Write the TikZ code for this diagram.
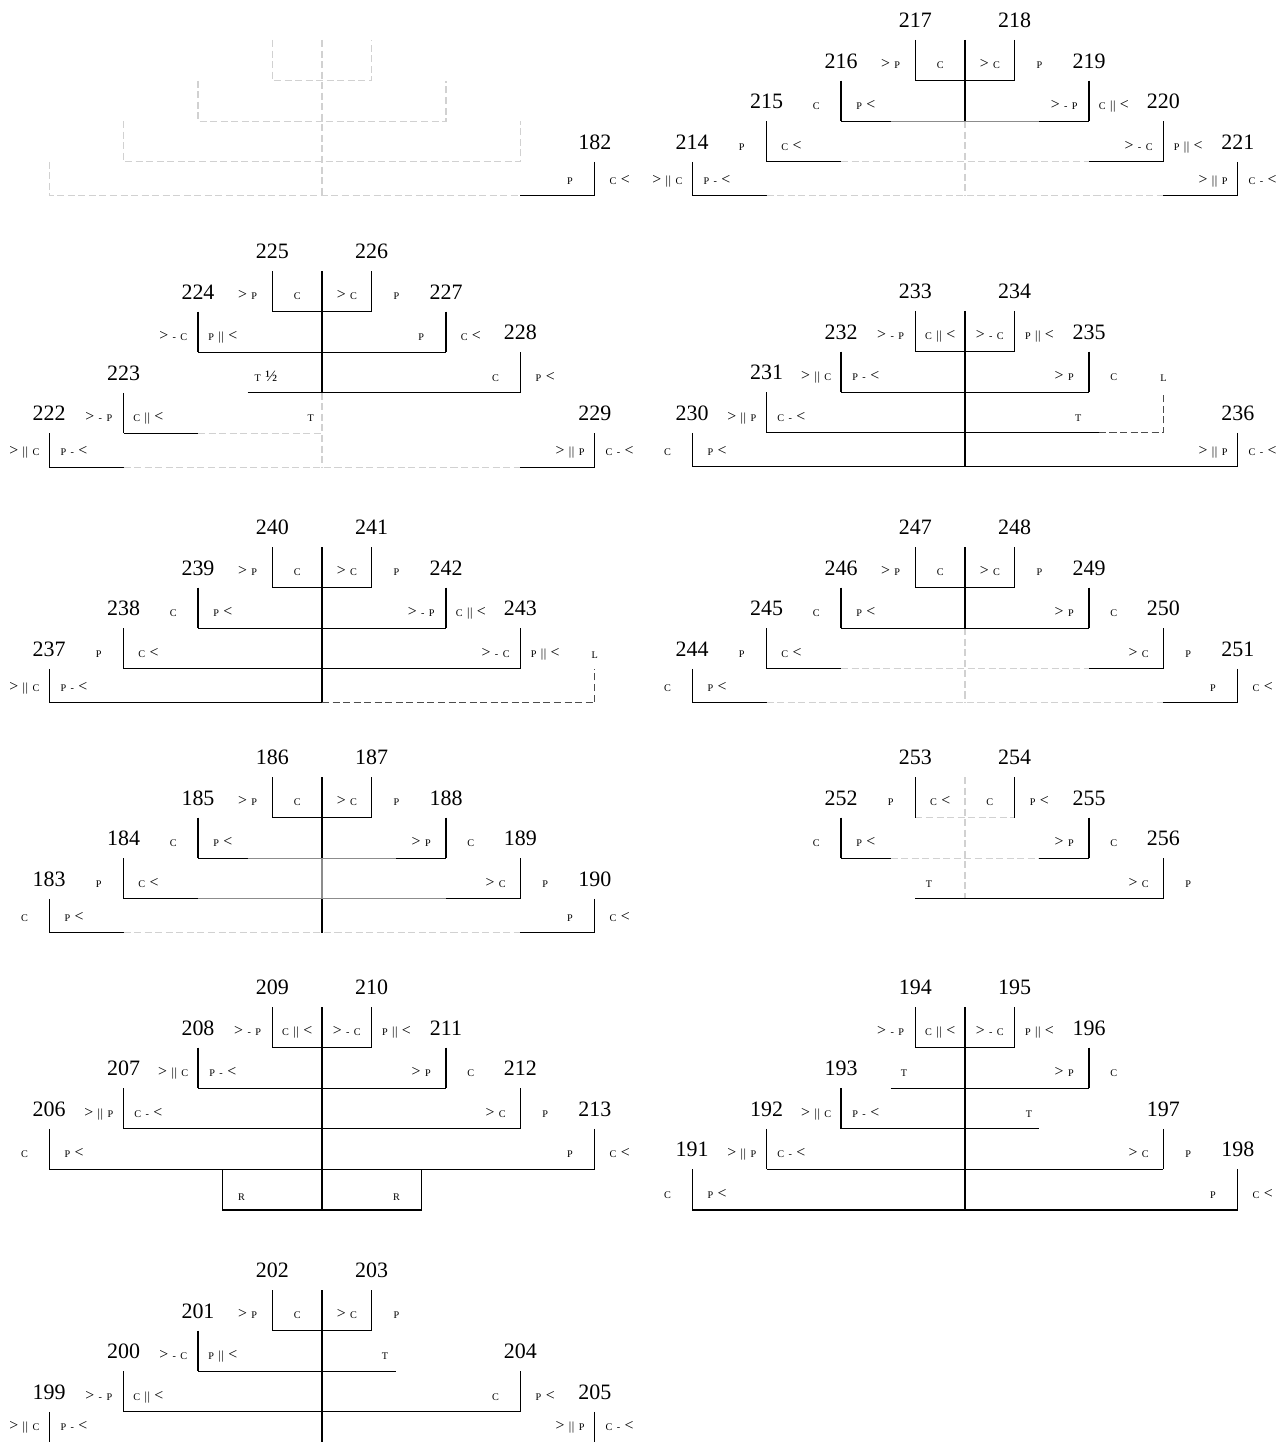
\documentclass[tikz,border=0pt]{standalone}
\usepackage{fontspec}
\setmainfont{Liberation Serif}
\newcommand\Gt{{\fontsize{9}{9}\selectfont >}}
\newcommand\Lt{{\fontsize{9}{9}\selectfont <}}
\newcommand\Db{{\fontsize{7}{7}\selectfont |\kern.3pt|}}
% [style] x, top, bottom, number, left label, right label
\newcommand\stemline[7][ln]{%
  \draw[#1] (#2,#3) -- (#2,#4);
  \node[num] (n#5) at (#2,#3-0.31) {#5};
  \node[lab] (a#5) at (#2-1,#4-0.29) {#6};
  \node[lab] (b#5) at (#2+1,#4-0.29) {#7};
}
\def\colL{12.984}
\def\colR{38.911}
\begin{document}
\begin{tikzpicture}[x=0.496cm,y=-0.812cm,
    ln/.style={line width=0.6pt},
    gr/.style={line width=0.6pt,black!45},
    dsh/.style={line width=0.6pt,black!18,dash pattern=on 4pt off 2pt},
    ldsh/.style={line width=0.6pt,black!70,dash pattern=on 4pt off 2pt},
    num/.style={anchor=base,inner sep=0pt,font=\fontsize{12.5}{14}\selectfont},
    lab/.style={anchor=base,inner sep=0pt,font={\fontsize{5.8}{7}\selectfont\spaceskip=2.5pt\relax}}]
    \useasboundingbox (0,0) rectangle (51.573,35.517);

    % 182
    \begin{scope}[shift={(\colL,0.985)}]
        \draw[dsh] (0,0) -- (0,3.84);
        \draw[dsh] (-2,0) -- (-2,1) -- (2,1) -- (2,0);
        \draw[dsh] (-5,1) -- (-5,2) -- (5,2) -- (5,1);
        \draw[dsh] (-8,2) -- (-8,3) -- (8,3) -- (8,2);
        \draw[dsh] (-11,3) -- (-11,3.84) -- (8,3.84);
        \draw[ln] (8,3.84) -- (11,3.84);
        \stemline{11}{3}{3.84}{182}{P}{C \Lt}
    \end{scope}

    % 214--221
    \begin{scope}[shift={(\colR,0.985)}]
        \draw[ln] (0,0) -- (0,2);
        \draw[dsh] (0,2) -- (0,3.84);
        \draw[ln] (-2,1) -- (2,1);
        \draw[ln] (-5,2) -- (-3,2); \draw[gr] (-3,2) -- (3,2); \draw[ln] (3,2) -- (5,2);
        \draw[ln] (-8,3) -- (-5,3); \draw[dsh] (-5,3) -- (5,3); \draw[ln] (5,3) -- (8,3);
        \draw[ln] (-11,3.84) -- (-8,3.84); \draw[dsh] (-8,3.84) -- (8,3.84); \draw[ln] (8,3.84) -- (11,3.84);
        \stemline{-2}{0}{1}{217}{\Gt{} P}{C}
        \stemline{2}{0}{1}{218}{\Gt{} C}{P}
        \stemline{-5}{1}{2}{216}{C}{P \Lt}
        \stemline{5}{1}{2}{219}{\Gt{} - P}{C \Db{} \Lt}
        \stemline{-8}{2}{3}{215}{P}{C \Lt}
        \stemline{8}{2}{3}{220}{\Gt{} - C}{P \Db{} \Lt}
        \stemline{-11}{3}{3.84}{214}{\Gt{} \Db{} C}{P - \Lt}
        \stemline{11}{3}{3.84}{221}{\Gt{} \Db{} P}{C - \Lt}
    \end{scope}

    % 222--229
    \begin{scope}[shift={(\colL,6.675)}]
        \draw[ln] (0,0) -- (0,3); \draw[dsh] (0,3) -- (0,4.84);
        \draw[ln] (-2,1) -- (2,1);
        \draw[ln] (-5,2) -- (5,2);
        \draw[ln] (-3,3) -- (8,3);
        \draw[ln] (-8,4) -- (-5,4); \draw[dsh] (-5,4) -- (0,4);
        \draw[ln] (-11,4.84) -- (-8,4.84); \draw[dsh] (-8,4.84) -- (8,4.84); \draw[ln] (8,4.84) -- (11,4.84);
        \node[lab] (tC1) at (-2.26,2.71) {T {\fontsize{9}{9}\selectfont ½}};
        \node[lab] (tC2) at (-0.45,3.71) {T};
        \stemline{-2}{0}{1}{225}{\Gt{} P}{C}
        \stemline{2}{0}{1}{226}{\Gt{} C}{P}
        \stemline{-5}{1}{2}{224}{\Gt{} - C}{P \Db{} \Lt}
        \stemline{5}{1}{2}{227}{P}{C \Lt}
        \stemline{8}{2}{3}{228}{C}{P \Lt}
        \stemline{-8}{3}{4}{223}{\Gt{} - P}{C \Db{} \Lt}
        \stemline{-11}{4}{4.84}{222}{\Gt{} \Db{} C}{P - \Lt}
        \stemline{11}{4}{4.84}{229}{\Gt{} \Db{} P}{C - \Lt}
    \end{scope}

    % 230--236
    \begin{scope}[shift={(\colR,7.66)}]
        \draw[ln] (0,0) -- (0,3.84);
        \draw[ln] (-2,1) -- (2,1);
        \draw[ln] (-5,2) -- (5,2);
        \draw[ln] (-8,3) -- (5.4,3);
        \draw[ldsh] (5.4,3) -- (8,3) -- (8,2);
        \draw[ln] (-11,3.84) -- (11,3.84);
        \node[lab] (tD) at (4.56,2.71) {T};
        \node[lab] (lD) at (8,1.735) {L};
        \stemline{-2}{0}{1}{233}{\Gt{} - P}{C \Db{} \Lt}
        \stemline{2}{0}{1}{234}{\Gt{} - C}{P \Db{} \Lt}
        \stemline{-5}{1}{2}{232}{\Gt{} \Db{} C}{P - \Lt}
        \stemline{5}{1}{2}{235}{\Gt{} P}{C}
        \stemline{-8}{2}{3}{231}{\Gt{} \Db{} P}{C - \Lt}
        \stemline{-11}{3}{3.84}{230}{C}{P \Lt}
        \stemline{11}{3}{3.84}{236}{\Gt{} \Db{} P}{C - \Lt}
    \end{scope}

    % 237--243
    \begin{scope}[shift={(\colL,13.473)}]
        \draw[ln] (0,0) -- (0,3.84);
        \draw[ln] (-2,1) -- (2,1);
        \draw[ln] (-5,2) -- (5,2);
        \draw[ln] (-8,3) -- (8,3);
        \draw[ln] (-11,3.84) -- (0,3.84);
        \draw[ldsh] (0,3.84) -- (11,3.84) -- (11,3);
        \node[lab] (lE) at (11,2.735) {L};
        \stemline{-2}{0}{1}{240}{\Gt{} P}{C}
        \stemline{2}{0}{1}{241}{\Gt{} C}{P}
        \stemline{-5}{1}{2}{239}{C}{P \Lt}
        \stemline{5}{1}{2}{242}{\Gt{} - P}{C \Db{} \Lt}
        \stemline{-8}{2}{3}{238}{P}{C \Lt}
        \stemline{8}{2}{3}{243}{\Gt{} - C}{P \Db{} \Lt}
        \stemline{-11}{3}{3.84}{237}{\Gt{} \Db{} C}{P - \Lt}
    \end{scope}

    % 244--251
    \begin{scope}[shift={(\colR,13.473)}]
        \draw[ln] (0,0) -- (0,2); \draw[dsh] (0,2) -- (0,3.84);
        \draw[ln] (-2,1) -- (2,1);
        \draw[ln] (-5,2) -- (5,2);
        \draw[ln] (-8,3) -- (-5,3); \draw[dsh] (-5,3) -- (5,3); \draw[ln] (5,3) -- (8,3);
        \draw[ln] (-11,3.84) -- (-8,3.84); \draw[dsh] (-8,3.84) -- (8,3.84); \draw[ln] (8,3.84) -- (11,3.84);
        \stemline{-2}{0}{1}{247}{\Gt{} P}{C}
        \stemline{2}{0}{1}{248}{\Gt{} C}{P}
        \stemline{-5}{1}{2}{246}{C}{P \Lt}
        \stemline{5}{1}{2}{249}{\Gt{} P}{C}
        \stemline{-8}{2}{3}{245}{P}{C \Lt}
        \stemline{8}{2}{3}{250}{\Gt{} C}{P}
        \stemline{-11}{3}{3.84}{244}{C}{P \Lt}
        \stemline{11}{3}{3.84}{251}{P}{C \Lt}
    \end{scope}

    % 183--190
    \begin{scope}[shift={(\colL,19.138)}]
        \draw[ln] (0,0) -- (0,2); \draw[gr] (0,2) -- (0,3); \draw[ln] (0,3) -- (0,3.84);
        \draw[ln] (-2,1) -- (2,1);
        \draw[ln] (-5,2) -- (-3,2); \draw[gr] (-3,2) -- (3,2); \draw[ln] (3,2) -- (5,2);
        \draw[ln] (-8,3) -- (-5,3); \draw[gr] (-5,3) -- (5,3); \draw[ln] (5,3) -- (8,3);
        \draw[ln] (-11,3.84) -- (-8,3.84); \draw[dsh] (-8,3.84) -- (8,3.84); \draw[ln] (8,3.84) -- (11,3.84);
        \stemline{-2}{0}{1}{186}{\Gt{} P}{C}
        \stemline{2}{0}{1}{187}{\Gt{} C}{P}
        \stemline{-5}{1}{2}{185}{C}{P \Lt}
        \stemline{5}{1}{2}{188}{\Gt{} P}{C}
        \stemline{-8}{2}{3}{184}{P}{C \Lt}
        \stemline{8}{2}{3}{189}{\Gt{} C}{P}
        \stemline{-11}{3}{3.84}{183}{C}{P \Lt}
        \stemline{11}{3}{3.84}{190}{P}{C \Lt}
    \end{scope}

    % 252--256
    \begin{scope}[shift={(\colR,19.138)}]
        \draw[dsh] (0,0) -- (0,3);
        \draw[dsh] (-2,1) -- (2,1);
        \draw[ln] (-5,2) -- (-3,2); \draw[dsh] (-3,2) -- (3,2); \draw[ln] (3,2) -- (5,2);
        \draw[ln] (-2,3) -- (8,3);
        \node[lab] (tH) at (-1.45,2.71) {T};
        \stemline{-2}{0}{1}{253}{P}{C \Lt}
        \stemline{2}{0}{1}{254}{C}{P \Lt}
        \stemline{-5}{1}{2}{252}{C}{P \Lt}
        \stemline{5}{1}{2}{255}{\Gt{} P}{C}
        \stemline{8}{2}{3}{256}{\Gt{} C}{P}
    \end{scope}

    % 206--213
    \begin{scope}[shift={(\colL,24.803)}]
        \draw[ln] (0,0) -- (0,5);
        \draw[ln] (-2,1) -- (2,1);
        \draw[ln] (-5,2) -- (5,2);
        \draw[ln] (-8,3) -- (8,3);
        \draw[ln] (-11,4) -- (11,4);
        \draw[ln] (-4,4) -- (-4,5) -- (4,5) -- (4,4);
        \node[lab] (rI1) at (-3.25,4.76) {R};
        \node[lab] (rI2) at (3,4.76) {R};
        \stemline{-2}{0}{1}{209}{\Gt{} - P}{C \Db{} \Lt}
        \stemline{2}{0}{1}{210}{\Gt{} - C}{P \Db{} \Lt}
        \stemline{-5}{1}{2}{208}{\Gt{} \Db{} C}{P - \Lt}
        \stemline{5}{1}{2}{211}{\Gt{} P}{C}
        \stemline{-8}{2}{3}{207}{\Gt{} \Db{} P}{C - \Lt}
        \stemline{8}{2}{3}{212}{\Gt{} C}{P}
        \stemline{-11}{3}{4}{206}{C}{P \Lt}
        \stemline{11}{3}{4}{213}{P}{C \Lt}
    \end{scope}

    % 191--198
    \begin{scope}[shift={(\colR,24.803)}]
        \draw[ln] (0,0) -- (0,5);
        \draw[ln] (-2,1) -- (2,1);
        \draw[ln] (-3,2) -- (5,2);
        \draw[ln] (-5,3) -- (3,3);
        \draw[ln] (-8,4) -- (8,4);
        \draw[ln] (-11,5) -- (11,5);
        \node[lab] (tJ1) at (-2.46,1.71) {T};
        \node[lab] (tJ2) at (2.58,2.71) {T};
        \stemline{-2}{0}{1}{194}{\Gt{} - P}{C \Db{} \Lt}
        \stemline{2}{0}{1}{195}{\Gt{} - C}{P \Db{} \Lt}
        \stemline{5}{1}{2}{196}{\Gt{} P}{C}
        \stemline{-5}{2}{3}{193}{\Gt{} \Db{} C}{P - \Lt}
        \stemline{-8}{3}{4}{192}{\Gt{} \Db{} P}{C - \Lt}
        \stemline{8}{3}{4}{197}{\Gt{} C}{P}
        \stemline{-11}{4}{5}{191}{C}{P \Lt}
        \stemline{11}{4}{5}{198}{P}{C \Lt}
    \end{scope}

    % 199--205
    \begin{scope}[shift={(\colL,31.773)}]
        \draw[ln] (0,0) -- (0,3.75);
        \draw[ln] (-2,1) -- (2,1);
        \draw[ln] (-5,2) -- (3,2);
        \draw[ln] (-8,3) -- (8,3);
        \node[lab] (tK) at (2.54,1.71) {T};
        \stemline{-2}{0}{1}{202}{\Gt{} P}{C}
        \stemline{2}{0}{1}{203}{\Gt{} C}{P}
        \stemline{-5}{1}{2}{201}{\Gt{} - C}{P \Db{} \Lt}
        \stemline{-8}{2}{3}{200}{\Gt{} - P}{C \Db{} \Lt}
        \stemline{8}{2}{3}{204}{C}{P \Lt}
        \stemline{-11}{3}{3.75}{199}{\Gt{} \Db{} C}{P - \Lt}
        \stemline{11}{3}{3.75}{205}{\Gt{} \Db{} P}{C - \Lt}
    \end{scope}
\end{tikzpicture}
\end{document}
